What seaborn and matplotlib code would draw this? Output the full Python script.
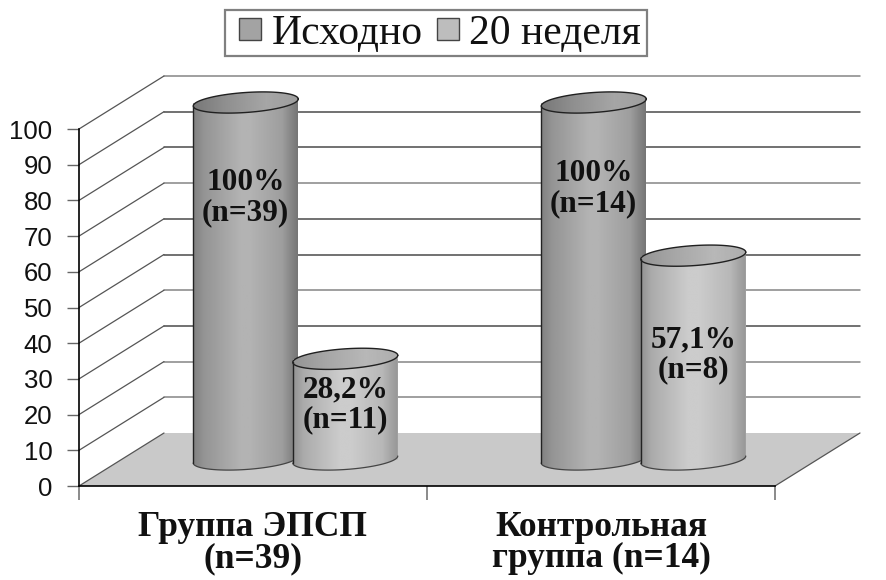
import numpy as np
import pandas as pd
import matplotlib
matplotlib.use('Agg')
import matplotlib.pyplot as plt
from matplotlib.path import Path
from matplotlib.patches import Rectangle
import seaborn as sns

# data
groups = ['Группа ЭПСП\n(n=39)', 'Контрольная\nгруппа (n=14)']
series = ['Исходно', '20 неделя']
base_vals = [100, 100]
week20_vals = [28.2, 57.1]
base_text = ['100%\n(n=39)', '100%\n(n=14)']
week20_text = ['28,2%\n(n=11)', '57,1%\n(n=8)']
y_ticks = [0, 10, 20, 30, 40, 50, 60, 70, 80, 90, 100]

df = pd.DataFrame({
    'group': groups * 2,
    'series': [series[0]] * 2 + [series[1]] * 2,
    'value': base_vals + week20_vals,
})

sns.set_theme(style='white')
plt.rcParams['font.family'] = ['Liberation Serif', 'DejaVu Serif']

# layout in pixels of the 886x580 picture
W, H = 886, 580
AX_L, AX_R, AX_B, AX_T = 79, 775, 486, 129
DEPTH_X, DEPTH_Y = 85, 53
PX = 2.0 / (AX_R - AX_L)          # data units per px, x
PY = 100.0 / (AX_B - AX_T)        # data units per px, y
CYL_W = 105                       # cylinder width, px
ELL_B = 10                        # ellipse half height, px
ELL_TILT = 3.5                    # right end sits higher than the left

fig = plt.figure(figsize=(W / 100, H / 100), dpi=100)
ax = fig.add_axes([AX_L / W, 1 - AX_B / H, (AX_R - AX_L) / W, (AX_B - AX_T) / H])

sns.barplot(data=df, x='group', y='value', hue='series', order=groups, hue_order=series,
            palette=['#a3a3a3', '#bdbdbd'], width=0.572, gap=0, saturation=1, ax=ax,
            edgecolor='#444444', linewidth=1)
ax.set_xlim(-0.5, 1.5)
ax.set_ylim(0, 100)
ax.set_xlabel('')
ax.set_ylabel('')

dx, dy = DEPTH_X * PX, DEPTH_Y * PY

# back wall, side wall and floor
ax.fill([-0.5, -0.5 + dx, 1.5 + dx, 1.5], [0, dy, dy, 0], color='#c9c9c9', zorder=1, clip_on=False, lw=0)
for t in y_ticks:
    line_col = '#858585' if t in (100, 70, 40, 20, 10) else '#4a4a4a'
    if t > 0:
        ax.plot([-0.5 + dx, 1.5 + dx], [t + dy, t + dy], color=line_col, lw=1.1, zorder=1.5, clip_on=False)
    ax.plot([-0.5, -0.5 + dx], [t, t + dy], color='#555555', lw=0.9, zorder=1.5, clip_on=False)
ax.plot([1.5, 1.5 + dx], [0, dy], color='#555555', lw=0.9, zorder=1.5, clip_on=False)


def ellipse_arc(xc, yc, t):
    xs = xc + (CYL_W / 2) * PX * np.cos(t)
    ys = yc + (ELL_B * np.sin(t) + ELL_TILT * np.cos(t)) * PY
    return xs, ys


def shaded(path_xy, x0, x1, y0, y1, stops, levels, z):
    # greyscale gradient clipped to the cylinder shape
    ramp = np.interp(np.linspace(0, 1, 200), stops, levels).reshape(1, -1)
    im = ax.imshow(ramp, cmap='gray', vmin=0, vmax=1, aspect='auto', extent=(x0, x1, y0, y1),
                   zorder=z, interpolation='bilinear')
    im.set_clip_path(Path(path_xy, closed=False), ax.transData)
    im.set_clip_box(fig.bbox)


body_levels = [[0.50, 0.58, 0.70, 0.70, 0.62, 0.46], [0.57, 0.67, 0.80, 0.80, 0.72, 0.59]]
top_levels = [[0.47, 0.56, 0.65, 0.62], [0.58, 0.65, 0.72, 0.68]]
all_text = [base_text, week20_text]
# where the captions sit on the cylinders, two lines centre, px from the top of the picture
text_y = [[198, 189], [405, 355]]

for h, container in enumerate(ax.containers):
    z = 3 + h
    for c, bar in enumerate(container):
        val = bar.get_height()
        xc = bar.get_x() + bar.get_width() / 2 + DEPTH_X / 2 * PX
        yb = (DEPTH_Y / 2) * PY
        yt = yb + val
        x0, x1 = xc - CYL_W / 2 * PX, xc + CYL_W / 2 * PX
        bar.set_x(x0)
        bar.set_width(x1 - x0)
        bar.set_y(yb)
        bar.set_clip_on(False)
        bar.set_zorder(z)
        bar.set_linewidth(0)

        front = np.linspace(np.pi, 2 * np.pi, 60)
        bx, by = ellipse_arc(xc, yb, front)
        tx, ty = ellipse_arc(xc, yt, front)
        body = np.column_stack([np.r_[bx, tx[::-1], bx[0]], np.r_[by, ty[::-1], by[0]]])
        shaded(body, x0, x1, yb - 15 * PY, yt + 5 * PY, [0, 0.1, 0.45, 0.55, 0.85, 1], body_levels[h], z + 0.1)

        whole = np.linspace(0, 2 * np.pi, 120)
        ex, ey = ellipse_arc(xc, yt, whole)
        top = np.column_stack([ex, ey])
        shaded(top, x0, x1, yt - 15 * PY, yt + 15 * PY, [0, 0.3, 0.7, 1], top_levels[h], z + 0.2)
        ax.plot(ex, ey, color='#202020', lw=1, zorder=z + 0.3, clip_on=False)
        ax.plot(bx, by, color='#444444', lw=0.9, zorder=z + 0.3, clip_on=False)
        ax.plot([x0, x0], [by[0], ty[0]], color='#222222', lw=1, zorder=z + 0.3, clip_on=False)

        ax.text(xc, (AX_B - text_y[h][c]) * PY, all_text[h][c], ha='center', va='center',
                fontsize=22.5, fontweight='bold', color='#111111', zorder=10, linespacing=1.05)

# axes look
ax.set_yticks(y_ticks)
ax.set_xticks([-0.5, 0.5, 1.5], minor=False)
ax.set_xticklabels(['', '', ''])
ax.tick_params(axis='y', left=True, length=9, width=1, color='#666666', pad=10, labelsize=18.5,
               labelcolor='#111111')
ax.tick_params(axis='x', bottom=True, length=10, width=1.2, color='#777777')
for lab in ax.get_yticklabels():
    lab.set_fontfamily('Liberation Sans')
sns.despine(ax=ax, top=True, right=True)
for s in ['left', 'bottom']:
    ax.spines[s].set_color('black')
    ax.spines[s].set_linewidth(1.2)
    ax.spines[s].set_zorder(2)

# group names under the axis
for i, g in enumerate(groups):
    ax.text(i, (AX_B - 543) * PY, g, ha='center', va='center', fontsize=25.5, fontweight='bold',
            color='#111111', linespacing=0.95, clip_on=False)

# legend, frame drawn apart so that it keeps the wide padding
handles, labels = ax.get_legend_handles_labels()
leg = ax.legend(handles, labels, ncol=2, loc='center', bbox_to_anchor=(440 / W, 1 - 34 / H),
                bbox_transform=fig.transFigure, fontsize=30, frameon=False,
                handlelength=0.53, handleheight=0.43,
                handletextpad=0.25, columnspacing=0.34, borderpad=0, borderaxespad=0)
for t in leg.get_texts():
    t.set_color('#111111')
fig.add_artist(Rectangle((225 / W, 1 - 56 / H), 422 / W, 46 / H, transform=fig.transFigure,
                         fill=False, edgecolor='#808080', linewidth=1.6))

fig.savefig('out.png', dpi=100)
